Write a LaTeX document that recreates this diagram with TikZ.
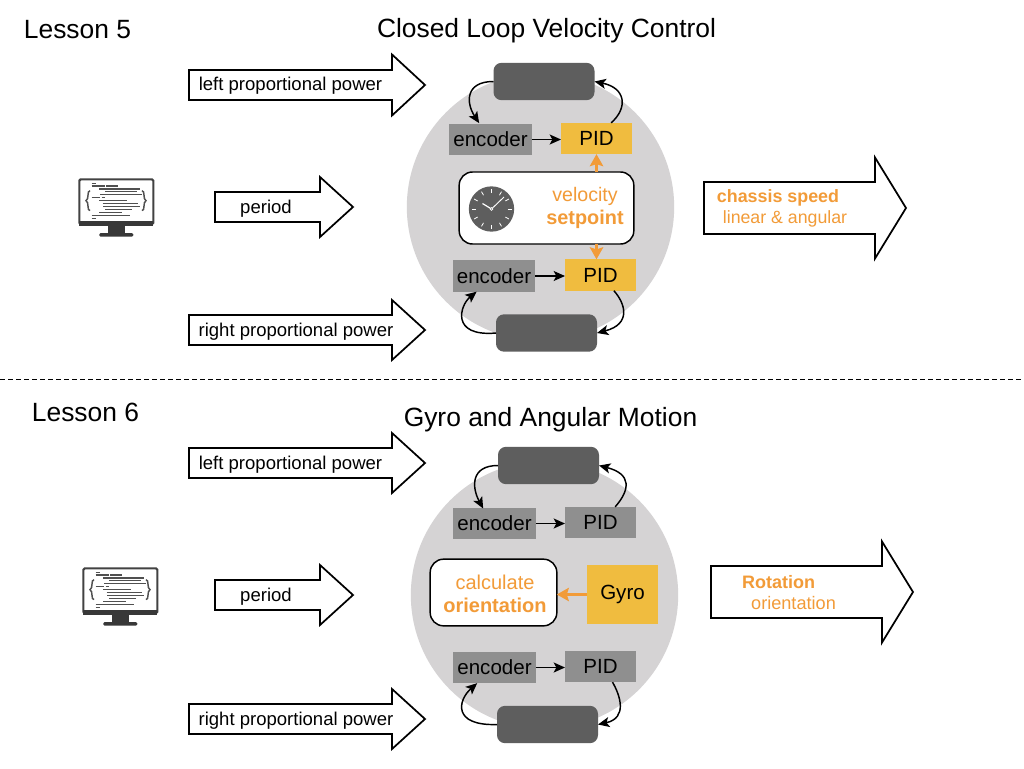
\documentclass[tikz,border=0pt]{standalone}
\usepackage{fontspec}
\setmainfont{Liberation Sans}
\usetikzlibrary{arrows.meta}
\definecolor{orng}{HTML}{F29B38}
\definecolor{yell}{HTML}{F0BC3F}
\definecolor{gbox}{HTML}{8F8F8F}
\definecolor{mot}{HTML}{5E5E5E}
\definecolor{disc}{HTML}{D5D3D4}
\newcommand{\fsz}[1]{\fontsize{#1}{#1}\selectfont}
\newcommand{\blockarrow}[6]{% x1, x2, xhead, cy, half shaft, half head
  \draw[blockline] (#1,#4-#5) -- (#3,#4-#5) -- (#3,#4-#6) -- (#2,#4) -- (#3,#4+#6) -- (#3,#4+#5) -- (#1,#4+#5) -- cycle;}
\newcommand{\monitor}[2]{%
 \begin{scope}[shift={(#1,#2)},scale=1/3]
  \draw[draw=mot!70!black,line width=1.6pt,fill=white,rounded corners=1pt] (58,58) rectangle (280,192);
  \fill[mot!60!black] (58,183) rectangle (280,197);
  \fill[mot!60!black] (144,197) rectangle (194,220);
  \fill[mot!60!black,rounded corners=1pt] (118,219) rectangle (220,230);
  \foreach \a/\b/\c in {95/108/70,95/110/78,112/135/78,138/175/78,118/240/87,135/230/95,120/245/104,95/120/113,125/135/113,118/200/122,128/235/131,130/240/140,135/215/149,118/185/158,95/210/167,95/108/176}
   \draw[mot!85!black,line width=1.1pt] (\a,\c) -- (\b,\c);
  \draw[mot!85!black,line width=1.1pt] (90,92) .. controls (80,92) and (88,118) .. (78,122) .. controls (88,126) and (80,152) .. (90,152);
  \draw[mot!85!black,line width=1.1pt] (246,92) .. controls (256,92) and (248,118) .. (258,122) .. controls (248,126) and (256,152) .. (246,152);
 \end{scope}}
\tikzset{
 x=0.75pt,y=-0.75pt,
 blockline/.style={draw=black,line width=1.3pt,fill=white,miter limit=10},
 plain/.style={inner sep=0pt,outer sep=0pt,align=center},
 lab/.style={plain,font=\fsz{13.9}},
 ttl/.style={plain,font=\fsz{19.8}},
 boxlab/.style={plain,font=\fsz{15.4}},
 orng1/.style={plain,text=orng,font=\fsz{14.7}},
 orng2/.style={plain,text=orng,font=\fsz{14.9}\bfseries},
 enc/.style={boxlab,fill=gbox,minimum width=62pt,minimum height=23.5pt},
 pidg/.style={boxlab,fill=gbox,minimum width=53.25pt,minimum height=23.5pt},
 pidy/.style={boxlab,fill=yell,minimum width=53.25pt,minimum height=23.5pt},
 motor/.style={plain,fill=mot,rounded corners=6pt,minimum width=75.75pt,minimum height=28pt},
 whitebox/.style={plain,draw=black,line width=1.1pt,fill=white,rounded corners=10pt},
 disc/.style={plain,circle,fill=disc,minimum size=200.5pt},
 conn/.style={draw=black,line width=1.1pt,-{Stealth[length=8.5pt,width=7.5pt,inset=2pt]}},
 oconn/.style={draw=orng,line width=2.2pt,-{Stealth[length=9pt,width=10pt,inset=1.5pt]}},
}
\begin{document}
\begin{tikzpicture}
\useasboundingbox[fill=white] (0,0) rectangle (1024,768);
% titles
\node[ttl] (l5) at (77.5,30) {Lesson 5};
\node[ttl] (t5) at (546.5,30.5) {Closed Loop Velocity Control};
\node[ttl] (l6) at (85.5,412) {Lesson 6};
\node[ttl] (t6) at (550.5,419.5) {Gyro and Angular Motion};
\coordinate (dl) at (0,379.5); \coordinate (dr) at (1024,379.5);
\draw[black,line width=.6pt,dash pattern=on 3.5pt off 2.5pt] (dl) -- (dr);
% monitors
\monitor{60}{160}
\monitor{64}{549}
% block arrows lesson 5
\blockarrow{189}{425}{392}{85}{15}{30.5}
\blockarrow{215}{353}{320}{207}{15}{30}
\blockarrow{189}{425}{392}{330}{15}{30}
\blockarrow{704}{906}{875}{208}{26}{50.5}
\node[lab] (a1) at (290.5,86) {left proportional power};
\node[lab] (a2) at (266,209) {period};
\node[lab] (a3) at (296,332) {right proportional power};
\node[orng2,font=\fsz{13.4}\bfseries] (o1) at (778,198) {chassis speed};
\node[orng1,font=\fsz{13.3}] (o2) at (785,219) {linear \& angular};
% block arrows lesson 6
\blockarrow{189}{425}{392}{463}{15}{30}
\blockarrow{215}{353}{320}{595}{15}{30}
\blockarrow{189}{425}{392}{719}{15}{30}
\blockarrow{711}{913}{882}{592}{26}{50.5}
\node[lab] (b1) at (290.5,465) {left proportional power};
\node[lab] (b2) at (266,597) {period};
\node[lab] (b3) at (296,721) {right proportional power};
\node[orng2,font=\fsz{13.5}\bfseries] (r1) at (778.5,582) {Rotation};
\node[orng1,font=\fsz{13.6}] (r2) at (793.5,603.5) {orientation};
% lesson 5 loop
\node[disc] (d5) at (540.5,207) {};
\node[motor] (m1) at (544,81.5) {};
\node[motor] (m2) at (546.5,333) {};
\node[enc] (e1) at (490.5,139.5) {encoder};
\node[pidy] (p1) at (596.5,138.5) {PID};
\node[enc] (e2) at (494,276) {encoder};
\node[pidy] (p2) at (600.5,275) {PID};
\node[whitebox,minimum width=131pt,minimum height=54pt] (w1) at (546.5,208) {};
\node[orng1] (v1) at (585,196) {velocity};
\node[orng2] (v2) at (585,219) {setpoint};
\node[plain,circle,fill=mot,minimum size=34pt] (clk) at (491.5,209) {};
\foreach \i in {0,30,...,330}
  \draw[white,line width=.6pt] ([shift={(\i:16)}]clk.center) -- ([shift={(\i:20)}]clk.center);
\draw[white,line width=.9pt] (clk.center) -- +(-9,-5.5);
\draw[white,line width=.7pt] (clk.center) -- +(12.5,-12);
\draw[white,line width=.5pt,fill=mot] (clk.center) circle[radius=1.4];
\draw[conn] (e1.east) -- (e1.east -| p1.west);
\draw[conn] (e2.east) -- (e2.east -| p2.west);
\draw[conn] (m1.west) .. controls (465,81.5) and (466,103) .. ([xshift=-8.5pt,yshift=0.5pt]e1.north);
\draw[conn] ([xshift=11pt]p1.north) .. controls (628,108) and (626,88) .. (m1.east);
\draw[conn] ([xshift=10pt]p2.south) .. controls (625,303) and (632,324) .. (m2.east);
\draw[conn] (m2.west) .. controls (450,337) and (460,305) .. ([xshift=-13pt]e2.south);
\draw[oconn] (w1.north -| p1.south) -- (p1.south);
\draw[oconn] ([xshift=-3pt]w1.south -| p2.north) -- ([xshift=-3pt]p2.north);
% lesson 6 loop
\node[disc] (d6) at (544.5,595) {};
\node[motor] (m3) at (548.5,465.5) {};
\node[motor] (m4) at (547.5,724.5) {};
\node[enc] (e3) at (494.5,523.5) {encoder};
\node[pidg] (p3) at (600.5,522.5) {PID};
\node[enc] (e4) at (494.5,667.5) {encoder};
\node[pidg] (p4) at (600.5,666.5) {PID};
\node[whitebox,minimum width=95pt,minimum height=50pt] (w2) at (493.5,592.5) {};
\node[orng1,font=\fsz{15}] (c1) at (495,582) {calculate};
\node[orng2,font=\fsz{15}\bfseries] (c2) at (495,605) {orientation};
\node[boxlab,fill=yell,minimum width=53.25pt,minimum height=44.25pt] (g) at (622.5,594.5) {Gyro};
\draw[conn] (e3.east) -- (e3.east -| p3.west);
\draw[conn] (e4.east) -- (e4.east -| p4.west);
\draw[conn] (m3.west) .. controls (470,465.5) and (472,488) .. ([xshift=-8.5pt,yshift=-.5pt]e3.north);
\draw[conn] ([xshift=11pt]p3.north) .. controls (630,490) and (632,474) .. (m3.east);
\draw[conn] ([xshift=9pt]p4.south) .. controls (620,695) and (628,718) .. (m4.east);
\draw[conn] (m4.west) .. controls (452,726) and (458,700) .. ([xshift=-13pt]e4.south);
\draw[oconn] (g.west) -- (g.west -| w2.east);
\end{tikzpicture}
\end{document}
